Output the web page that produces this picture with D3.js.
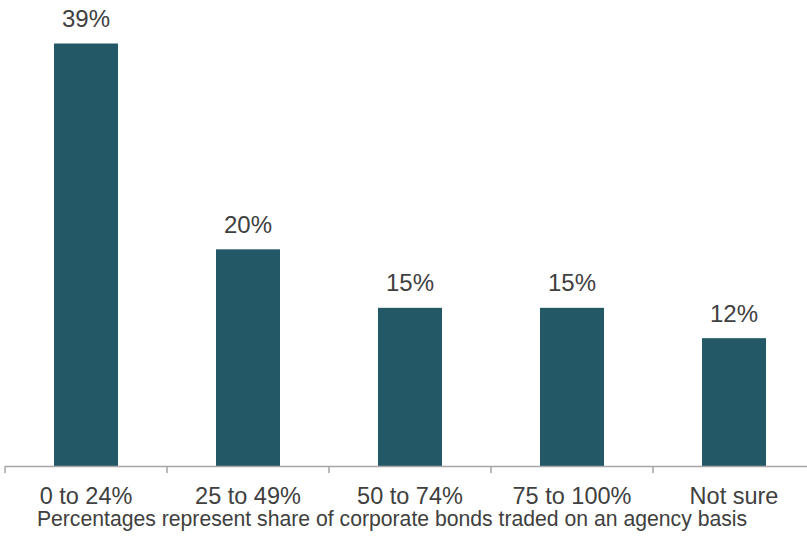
<!DOCTYPE html>
<html>
<head>
<meta charset="utf-8">
<script src="https://cdn.jsdelivr.net/npm/d3@7"></script>
<style>
  html, body { margin: 0; padding: 0; background: #fff; }
  svg text { font-family: "Liberation Sans", Arial, sans-serif; fill: #404040; }
</style>
</head>
<body>
<div id="chart"></div>
<script>
// data
const categories = ['0 to 24%', '25 to 49%', '50 to 74%', '75 to 100%', 'Not sure'];
const values = [39, 20, 14.6, 14.6, 11.8];
const footnote = 'Percentages represent share of corporate bonds traded on an agency basis';

const width = 807, height = 540;
const baseY = 466;

const svg = d3.select('#chart').append('svg')
    .attr('width', width)
    .attr('height', height);

// band scale for the category slots (axis ticks sit on slot edges)
const slot = d3.scaleBand()
    .domain(categories)
    .range([5, 815])
    .padding(0);

// bars sit in the middle of every slot
const x = d3.scaleBand()
    .domain(categories)
    .range([5, 815])
    .paddingInner(0.605)
    .paddingOuter(0.3025);

const y = d3.scaleLinear()
    .domain([0, d3.max(values)])
    .range([baseY, 43.5]);

svg.append('g')
    .selectAll('rect')
    .data(values)
    .join('rect')
        .attr('x', (d, i) => x(categories[i]))
        .attr('y', d => y(d))
        .attr('width', x.bandwidth())
        .attr('height', d => baseY - y(d))
        .attr('fill', '#235967');

// value labels
svg.append('g')
    .selectAll('text')
    .data(values)
    .join('text')
        .attr('x', (d, i) => x(categories[i]) + x.bandwidth() / 2)
        .attr('y', d => y(d) - 16.5)
        .attr('text-anchor', 'middle')
        .attr('font-size', 24)
        .text(d => Math.round(d) + '%');

// x axis labels
const axis = svg.append('g')
    .attr('transform', `translate(0,${baseY})`)
    .call(d3.axisBottom(x).tickSize(0).tickSizeOuter(0));
axis.select('.domain').remove();
axis.selectAll('.tick text')
    .attr('y', 38)
    .attr('dy', 0)
    .attr('font-size', 23.5)
    .style('fill', '#404040');

// slot edge ticks
const edges = categories.map(c => slot(c)).concat([slot.range()[1]]);
svg.append('g')
    .selectAll('line')
    .data(edges)
    .join('line')
        .attr('x1', d => d).attr('x2', d => d)
        .attr('y1', baseY).attr('y2', baseY + 7)
        .attr('stroke', '#a6a6a6')
        .attr('stroke-width', 1.5);

svg.append('line')
    .attr('x1', slot.range()[0]).attr('x2', slot.range()[1])
    .attr('y1', baseY + 0.5).attr('y2', baseY + 0.5)
    .attr('stroke', '#a6a6a6')
    .attr('stroke-width', 1.5);

svg.append('text')
    .attr('x', 392)
    .attr('y', 526)
    .attr('text-anchor', 'middle')
    .attr('font-size', 21.2)
    .text(footnote);
</script>
</body>
</html>
